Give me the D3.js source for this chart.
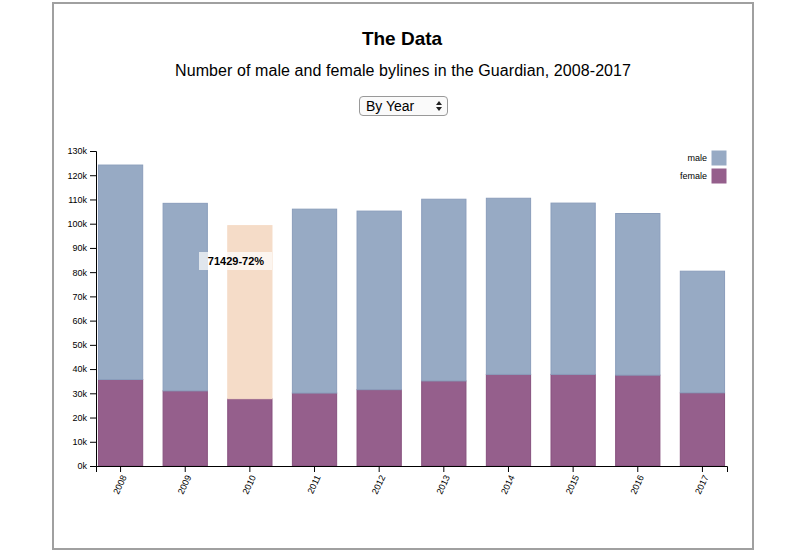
<!DOCTYPE html>
<html>
<head>
<meta charset="utf-8">
<script src="https://cdnjs.cloudflare.com/ajax/libs/d3/7.8.5/d3.min.js"></script>
<style>
  body { margin: 0; background: #fff; font-family: "Liberation Sans", Arial, sans-serif; }
  #wrap { position: relative; width: 800px; height: 552px; }
  #frame { position: absolute; left: 52px; top: 2px; width: 698px; height: 544px; border: 2px solid #a0a0a0; }
  #picker { position: absolute; left: 359px; top: 96px; width: 89px; height: 20px;
            font-family: "Liberation Sans", Arial, sans-serif; font-size: 14px;
            border: 1px solid #999; border-radius: 4px; background: #fafafa; padding: 0 6px;
            -webkit-appearance: none; appearance: none; }
  #arrows { position: absolute; left: 435px; top: 99px; width: 8px; height: 14px; pointer-events: none; }
  svg#chart { position: absolute; left: 0; top: 0; }
  .axis text { font-size: 9px; font-family: "Liberation Sans", Arial, sans-serif; fill: #000; }
</style>
</head>
<body>
<div id="wrap">
  <div id="frame"></div>
  <svg id="chart" width="800" height="552"></svg>
  <select id="picker"><option>By Year</option><option>By Section</option></select>
  <svg id="arrows" width="8" height="14"><path d="M1,6 L4,2 L7,6 Z M1,8 L4,12 L7,8 Z" fill="#222"></path></svg>
</div>
<script>
/* Guardian bylines, male / female per year */
const years = ['2008', '2009', '2010', '2011', '2012', '2013', '2014', '2015', '2016', '2017'];
const female = [35700, 31000, 27780, 30100, 31500, 35100, 37800, 37800, 37500, 30200];
const male = [88500, 77400, 71429, 75900, 73700, 75000, 72700, 70700, 66700, 50200];
const yTicks = [0, 10000, 20000, 30000, 40000, 50000, 60000, 70000, 80000, 90000, 100000, 110000, 120000, 130000];
const series = ['female', 'male'];
const hovered = '2010';

const COLORS = { male: '#97aac4', female: '#955f8c' };
const STROKES = { male: '#8a9dbb', female: '#87517e' };
const HOVER_FILL = '#f5dcc8';

const M = { left: 96, right: 727, top: 151, bottom: 466 };

const svg = d3.select('#chart');

svg.append('text')
    .attr('x', 402).attr('y', 45)
    .attr('text-anchor', 'middle')
    .attr('font-size', '19px').attr('font-weight', '700')
    .text('The Data');

svg.append('text')
    .attr('x', 403).attr('y', 76)
    .attr('text-anchor', 'middle')
    .attr('font-size', '16px')
    .attr('textLength', 456)
    .text('Number of male and female bylines in the Guardian, 2008-2017');

const table = years.map((y, i) => ({ year: y, female: female[i], male: male[i] }));
const stack = d3.stack().keys(series)(table);

const x = d3.scaleBand()
    .domain(years)
    .range([M.left, M.right])
    .paddingInner(0.3)
    .paddingOuter(0.03);

const y = d3.scaleLinear()
    .domain([0, 130000])
    .range([M.bottom, M.top]);

// Bars
const layers = svg.append('g').selectAll('g')
    .data(stack)
    .enter().append('g')
    .attr('class', d => 'layer ' + d.key);

layers.selectAll('rect')
    .data(d => d.map(v => ({ key: d.key, v })))
    .enter().append('rect')
    .attr('x', d => x(d.v.data.year) + 0.5)
    .attr('y', d => y(d.v[1]))
    .attr('width', x.bandwidth() - 1)
    .attr('height', d => y(d.v[0]) - y(d.v[1]))
    .attr('fill', d => (d.key === 'male' && d.v.data.year === hovered) ? HOVER_FILL : COLORS[d.key])
    .attr('stroke', d => (d.key === 'male' && d.v.data.year === hovered) ? HOVER_FILL : STROKES[d.key])
    .attr('stroke-width', 1);

// Axes
svg.append('g')
    .attr('class', 'axis')
    .attr('transform', `translate(${M.left},0)`)
    .call(d3.axisLeft(y).tickValues(yTicks).tickFormat(d => (d / 1000) + 'k'));

svg.append('g')
    .attr('class', 'axis')
    .attr('transform', `translate(0,${M.bottom})`)
    .call(d3.axisBottom(x))
    .selectAll('text')
    .style('text-anchor', 'end')
    .attr('dx', '-.8em')
    .attr('dy', '.15em')
    .attr('transform', 'rotate(-65)');

// Legend
const legend = svg.append('g')
    .selectAll('g')
    .data(['male', 'female'])
    .enter().append('g')
    .attr('transform', (d, i) => `translate(0,${150 + i * 18})`);

legend.append('rect')
    .attr('x', 711).attr('width', 16).attr('height', 16)
    .attr('fill', d => COLORS[d])
    .attr('stroke', '#fff');

legend.append('text')
    .attr('x', 707).attr('y', 8).attr('dy', '.35em')
    .attr('text-anchor', 'end')
    .attr('font-size', '9px')
    .text(d => d);

// Hover tooltip on 2010
const hi = years.indexOf(hovered);
const total = male[hi] + female[hi];
const tip = svg.append('g').attr('transform', `translate(199,252)`);
tip.append('rect')
    .attr('width', 73).attr('height', 18)
    .attr('fill', '#fff').attr('opacity', 0.7);
tip.append('text')
    .attr('x', 37).attr('y', 13)
    .attr('text-anchor', 'middle')
    .attr('font-size', '11px').attr('font-weight', '700')
    .text(male[hi] + '-' + Math.round(male[hi] / total * 100) + '%');
</script>
</body>
</html>
